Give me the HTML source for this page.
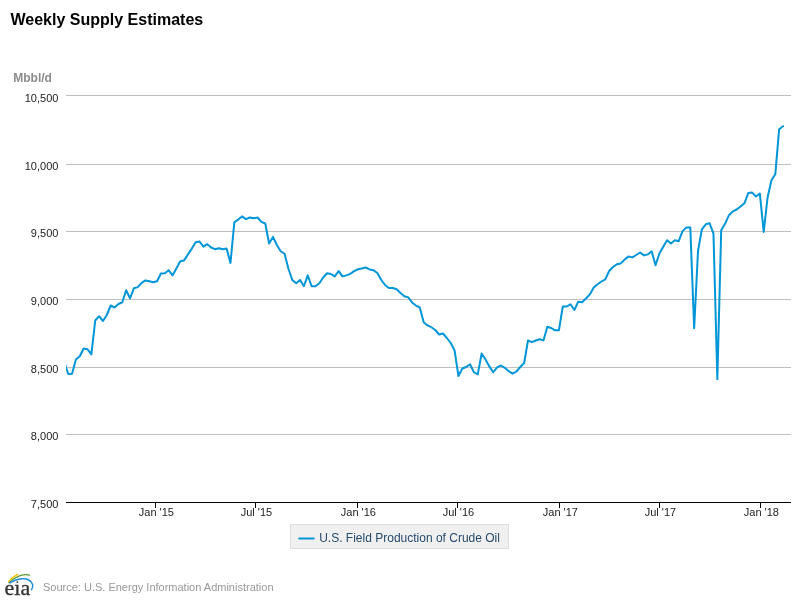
<!DOCTYPE html>
<html><head><meta charset="utf-8"><title>Weekly Supply Estimates</title>
<style>html,body{margin:0;padding:0;background:#fff;width:800px;height:600px;overflow:hidden}svg{display:block;will-change:transform}</style>
</head><body>
<svg width="800" height="600" viewBox="0 0 800 600">
<text x="10.5" y="24.5" font-family="Liberation Sans, sans-serif" font-size="16" font-weight="bold" fill="#000">Weekly Supply Estimates</text>
<text x="13.3" y="82.4" font-family="Liberation Sans, sans-serif" font-size="12" font-weight="bold" fill="#8c8c8c">Mbbl/d</text>
<rect x="66" y="95" width="725" height="1" fill="#c0c0c0"/>
<rect x="66" y="164" width="725" height="1" fill="#c0c0c0"/>
<rect x="66" y="231" width="725" height="1" fill="#c0c0c0"/>
<rect x="66" y="299" width="725" height="1" fill="#c0c0c0"/>
<rect x="66" y="367" width="725" height="1" fill="#c0c0c0"/>
<rect x="66" y="434" width="725" height="1" fill="#c0c0c0"/>
<text x="58.4" y="101.9" font-family="Liberation Sans, sans-serif" font-size="11" fill="#222" text-anchor="end">10,500</text>
<text x="58.4" y="169.6" font-family="Liberation Sans, sans-serif" font-size="11" fill="#222" text-anchor="end">10,000</text>
<text x="58.4" y="237.2" font-family="Liberation Sans, sans-serif" font-size="11" fill="#222" text-anchor="end">9,500</text>
<text x="58.4" y="304.9" font-family="Liberation Sans, sans-serif" font-size="11" fill="#222" text-anchor="end">9,000</text>
<text x="58.4" y="372.6" font-family="Liberation Sans, sans-serif" font-size="11" fill="#222" text-anchor="end">8,500</text>
<text x="58.4" y="440.2" font-family="Liberation Sans, sans-serif" font-size="11" fill="#222" text-anchor="end">8,000</text>
<text x="58.4" y="507.9" font-family="Liberation Sans, sans-serif" font-size="11" fill="#222" text-anchor="end">7,500</text>
<defs><clipPath id="pc"><rect x="66" y="80" width="724" height="430"/></clipPath></defs>
<path d="M64.31,362.00 L68.18,374.00 L72.04,373.80 L75.91,359.50 L79.77,356.30 L83.64,348.50 L87.50,349.30 L91.36,354.30 L95.23,320.50 L99.09,316.20 L102.96,321.00 L106.82,315.00 L110.68,305.50 L114.55,307.50 L118.41,304.00 L122.28,302.30 L126.14,290.30 L130.00,298.30 L133.87,288.30 L137.73,287.10 L141.60,282.90 L145.46,280.40 L149.32,281.25 L153.19,282.30 L157.05,281.25 L160.92,273.50 L164.78,273.30 L168.64,270.20 L172.51,275.40 L176.37,268.50 L180.24,261.25 L184.10,260.40 L187.96,254.40 L191.83,248.60 L195.69,242.30 L199.56,241.50 L203.42,246.70 L207.28,244.20 L211.15,247.50 L215.01,249.20 L218.88,248.30 L222.74,249.20 L226.60,248.40 L230.47,263.00 L234.33,222.30 L238.20,219.60 L242.06,216.40 L245.93,219.10 L249.79,217.50 L253.65,218.30 L257.52,217.50 L261.38,221.80 L265.25,223.50 L269.11,243.50 L272.97,236.90 L276.84,245.00 L280.70,251.25 L284.57,253.75 L288.43,268.75 L292.29,280.00 L296.16,283.20 L300.02,280.00 L303.89,286.25 L307.75,275.40 L311.61,286.25 L315.48,286.25 L319.34,283.30 L323.21,277.50 L327.07,273.30 L330.93,274.00 L334.80,276.40 L338.66,271.10 L342.53,276.40 L346.39,275.40 L350.25,273.90 L354.12,271.10 L357.98,269.25 L361.85,268.50 L365.71,267.50 L369.57,269.40 L373.44,270.15 L377.30,273.00 L381.17,279.75 L385.03,285.00 L388.90,288.00 L392.76,288.00 L396.62,289.30 L400.49,293.00 L404.35,296.20 L408.22,297.40 L412.08,302.40 L415.94,305.60 L419.81,307.50 L423.67,322.20 L427.54,325.40 L431.40,327.20 L435.26,330.00 L439.13,334.50 L442.99,333.50 L446.86,338.00 L450.72,343.00 L454.58,350.50 L458.45,376.00 L462.31,368.50 L466.18,367.00 L470.04,364.20 L473.90,372.25 L477.77,374.40 L481.63,353.50 L485.50,359.50 L489.36,366.40 L493.22,372.25 L497.09,367.40 L500.95,365.50 L504.82,367.80 L508.68,371.20 L512.54,373.70 L516.41,371.50 L520.27,367.00 L524.14,363.00 L528.00,340.50 L531.86,342.20 L535.73,340.50 L539.59,339.30 L543.46,340.40 L547.32,326.70 L551.19,328.00 L555.05,330.30 L558.91,330.30 L562.78,306.50 L566.64,306.50 L570.51,304.30 L574.37,310.00 L578.23,301.70 L582.10,302.20 L585.96,298.50 L589.83,294.40 L593.69,287.50 L597.55,284.30 L601.42,281.50 L605.28,279.30 L609.15,271.00 L613.01,267.00 L616.87,264.20 L620.74,263.40 L624.60,259.65 L628.47,256.50 L632.33,257.40 L636.19,255.00 L640.06,252.50 L643.92,255.40 L647.79,254.40 L651.65,251.20 L655.51,265.30 L659.38,253.50 L663.24,246.70 L667.11,240.20 L670.97,243.40 L674.83,240.20 L678.70,241.20 L682.56,231.10 L686.43,227.40 L690.29,227.40 L694.16,328.20 L698.02,251.00 L701.88,229.30 L705.75,224.30 L709.61,223.30 L713.48,233.60 L717.34,379.10 L721.20,230.30 L725.07,223.80 L728.93,215.20 L732.80,211.40 L736.66,209.50 L740.52,206.50 L744.39,203.30 L748.25,193.10 L752.12,192.60 L755.98,196.50 L759.84,193.50 L763.71,232.00 L767.57,197.50 L771.44,180.20 L775.30,174.30 L779.16,129.20 L783.03,126.20" fill="none" stroke="#0096d7" stroke-width="2" stroke-linejoin="round" stroke-linecap="round" clip-path="url(#pc)"/>
<rect x="66" y="502" width="725" height="1" fill="#000"/>
<rect x="155" y="503" width="1" height="5" fill="#000"/>
<text x="156.4" y="516" font-family="Liberation Sans, sans-serif" font-size="11" fill="#222" text-anchor="middle">Jan '15</text>
<rect x="255" y="503" width="1" height="5" fill="#000"/>
<text x="256.4" y="516" font-family="Liberation Sans, sans-serif" font-size="11" fill="#222" text-anchor="middle">Jul '15</text>
<rect x="357" y="503" width="1" height="5" fill="#000"/>
<text x="358.4" y="516" font-family="Liberation Sans, sans-serif" font-size="11" fill="#222" text-anchor="middle">Jan '16</text>
<rect x="457" y="503" width="1" height="5" fill="#000"/>
<text x="458.4" y="516" font-family="Liberation Sans, sans-serif" font-size="11" fill="#222" text-anchor="middle">Jul '16</text>
<rect x="559" y="503" width="1" height="5" fill="#000"/>
<text x="560.4" y="516" font-family="Liberation Sans, sans-serif" font-size="11" fill="#222" text-anchor="middle">Jan '17</text>
<rect x="659" y="503" width="1" height="5" fill="#000"/>
<text x="660.4" y="516" font-family="Liberation Sans, sans-serif" font-size="11" fill="#222" text-anchor="middle">Jul '17</text>
<rect x="760" y="503" width="1" height="5" fill="#000"/>
<text x="761.4" y="516" font-family="Liberation Sans, sans-serif" font-size="11" fill="#222" text-anchor="middle">Jan '18</text>
<rect x="290.5" y="524.5" width="218" height="24" fill="#f0f0f0" stroke="#dedede" stroke-width="1"/>
<path d="M299.2,538.4 L313.8,538.4" stroke="#0096d7" stroke-width="2" stroke-linecap="round"/>
<text x="319.2" y="542" font-family="Liberation Sans, sans-serif" font-size="12" fill="#274b6d">U.S. Field Production of Crude Oil</text>
<text x="43" y="590.5" font-family="Liberation Sans, sans-serif" font-size="11" fill="#999">Source: U.S. Energy Information Administration</text>
<path d="M8.4,581.9 C10.3,579.2 13.6,576.2 17.9,574.4" fill="none" stroke="#f7c300" stroke-width="1.3" stroke-linecap="round"/>
<path d="M9,582.6 C11.8,579.9 15.5,577.2 20,575.6 C24,574.3 27.5,574.4 29.6,575.1" fill="none" stroke="#5b9a32" stroke-width="1.3" stroke-linecap="round"/>
<path d="M9.8,582.9 C13,580.8 17,579.1 22,578.7 C27,578.3 31.6,580.6 32.6,584.5 C33,586.5 32.5,588.5 31.6,589.6" fill="none" stroke="#1e90d8" stroke-width="1.5" stroke-linecap="round"/>
<text x="4.6" y="594.9" font-family="Liberation Serif, serif" font-size="22" fill="#333" stroke="#333" stroke-width="0.35">e&#305;a</text><circle cx="17.35" cy="582.1" r="0.95" fill="#333"/>
</svg>
</body></html>
